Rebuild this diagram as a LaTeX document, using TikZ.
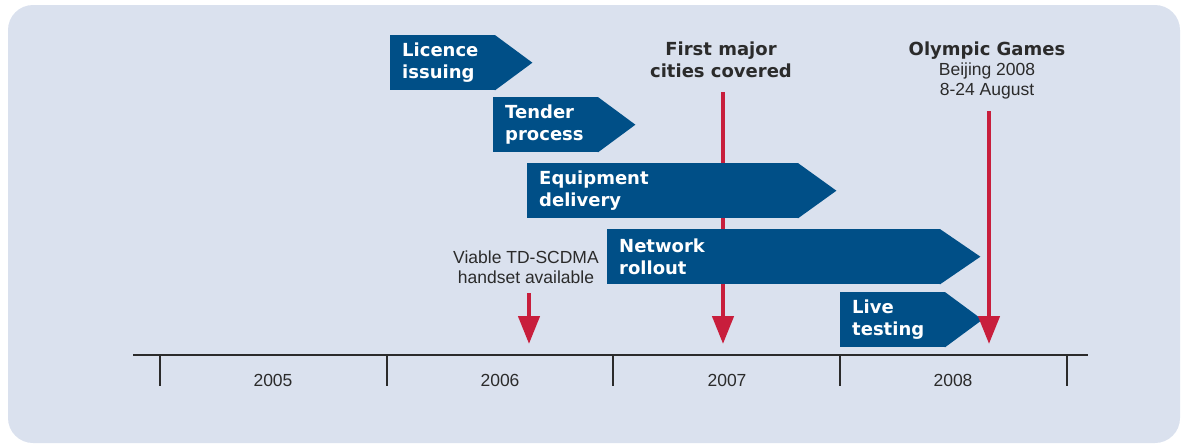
\documentclass[tikz,border=0pt]{standalone}
\usepackage{fontspec}
\setmainfont{Liberation Sans}
\newfontfamily\phasefamily{DejaVu Sans}
\usetikzlibrary{arrows.meta}
\definecolor{panelbg}{HTML}{DAE1EE}
\definecolor{phaseblue}{HTML}{004F87}
\definecolor{eventred}{HTML}{C81E3C}
\definecolor{inkgray}{HTML}{2B2B2B}

\begin{document}
\begin{tikzpicture}[x=1pt, y=-1pt,
  phase/.style = {anchor=north west, fill=phaseblue, text=white,
    font=\phasefamily\bfseries\fontsize{18}{22}\selectfont,
    align=left, text width=#1, minimum height=55pt,
    inner xsep=12pt, inner ysep=0pt},
  event/.style = {draw=eventred, line width=4.5pt,
    -{Triangle[width=21pt, length=28pt, fill=eventred]}},
  heading/.style = {text=inkgray, align=center, inner sep=0pt, anchor=base,
    font=\phasefamily\bfseries\fontsize{18}{22}\selectfont},
  note/.style = {text=inkgray, align=center, inner sep=0pt, anchor=base,
    font=\fontsize{17.5}{20}\selectfont}]
  \useasboundingbox (0,0) rectangle (1186,445);
  \fill[panelbg, rounded corners=25pt] (8,5) rectangle (1180,443);

  % time axis
  \coordinate (axisL) at (133,355);
  \coordinate (axisR) at (1088,355);
  \draw[inkgray, line width=1.5pt] (axisL) -- (axisR);
  \foreach \x in {160,387,613,840,1067}
    \draw[inkgray, line width=1.5pt] (\x,355) -- (\x,386);
  \foreach \yr/\x in {2005/273, 2006/500, 2007/727, 2008/953}
    \node[note] (y\yr) at (\x,386) {\yr};

  % milestones (base = last line)
  \node[heading] (major) at (721,77) {First major\\cities covered};
  \node[heading] (games) at (987,55) {Olympic Games};
  \node[note] (gamesNote) at (987,95) {Beijing 2008\\8-24 August};
  \node[note] (handset) at (526,283) {Viable TD-SCDMA\\handset available};
  \coordinate (majorTop) at (723,92);
  \coordinate (majorEnd) at (723,344);
  \coordinate (gamesTop) at (989,111);
  \coordinate (gamesEnd) at (989,344);
  \coordinate (handsetTop) at (529,293);
  \coordinate (handsetEnd) at (529,344);
  \draw[event] (majorTop) -- (majorEnd);

  % phases
  \node[phase=81pt] (lic) at (390,35) {Licence\\issuing};
  \node[phase=81pt] (ten) at (493,97) {Tender\\process};
  \node[phase=247pt] (equ) at (527,163) {Equipment\\delivery};
  \node[phase=309pt] (net) at (607,229) {Network\\rollout};
  \node[phase=81pt] (liv) at (840,292) {Live\\testing};
  \foreach \n/\d in {lic/37, ten/37, equ/38, net/40, liv/37}
    \fill[phaseblue] ([xshift=-0.5pt]\n.north east) -- ([xshift=\d pt]\n.east)
      -- ([xshift=-0.5pt]\n.south east) -- cycle;

  \draw[event] (handsetTop) -- (handsetEnd);
  \draw[event] (gamesTop) -- (gamesEnd);
\end{tikzpicture}
\end{document}
